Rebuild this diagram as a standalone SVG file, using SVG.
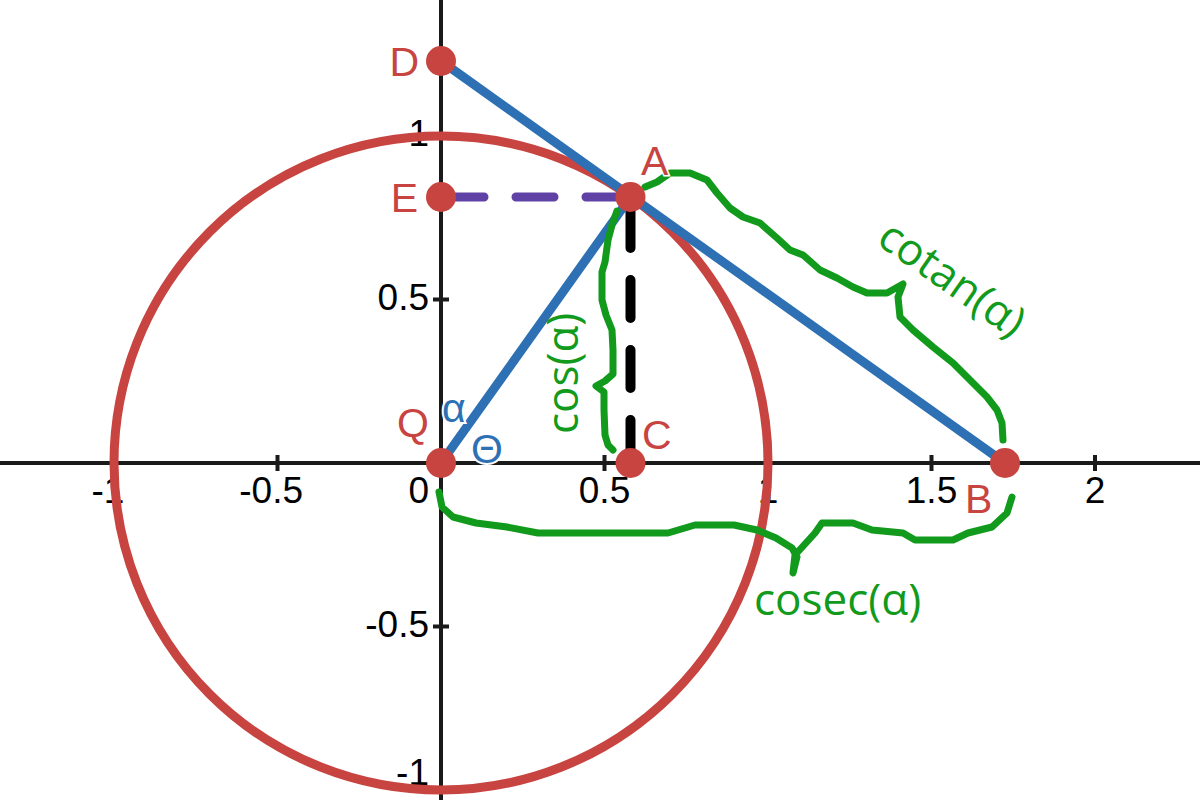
<svg xmlns="http://www.w3.org/2000/svg" width="1200" height="800" viewBox="0 0 1200 800">
<style>
.axis{stroke:#1a1a1a;stroke-width:4;fill:none}
.tick{stroke:#1a1a1a;stroke-width:4}
.tl{font-family:"Liberation Sans",Arial,sans-serif;font-size:37px;fill:#000;stroke:#fff;stroke-width:3;paint-order:stroke}
.pl{font-family:"Liberation Sans",Arial,sans-serif;font-size:41px;fill:#c74440;stroke:#fff;stroke-width:3;paint-order:stroke}
.bl{font-family:"Liberation Sans",Arial,sans-serif;font-size:41px;fill:#2d70b3;stroke:#fff;stroke-width:4;paint-order:stroke}
.gt{font-family:"Open Sans","Noto Sans",sans-serif;font-size:44px;fill:#119a1b}
.brace{fill:none;stroke:#119a1b;stroke-width:7;stroke-linecap:round;stroke-linejoin:round}
.pt{fill:#c74440}
.seg{stroke:#2d70b3;stroke-width:9;stroke-linecap:round;fill:none}
</style>
<rect width="1200" height="800" fill="#fff"/>
<g id="axes">
<line class="axis" x1="0" y1="463" x2="1200" y2="463"/>
<line class="axis" x1="441" y1="0" x2="441" y2="800"/>
<line class="tick" x1="114" y1="455" x2="114" y2="471"/>
<line class="tick" x1="277.5" y1="455" x2="277.5" y2="471"/>
<line class="tick" x1="604.5" y1="455" x2="604.5" y2="471"/>
<line class="tick" x1="768" y1="455" x2="768" y2="471"/>
<line class="tick" x1="931.5" y1="455" x2="931.5" y2="471"/>
<line class="tick" x1="1095" y1="455" x2="1095" y2="471"/>
<line class="tick" x1="433" y1="136" x2="449" y2="136"/>
<line class="tick" x1="433" y1="299.5" x2="449" y2="299.5"/>
<line class="tick" x1="433" y1="626.5" x2="449" y2="626.5"/>
<line class="tick" x1="433" y1="790" x2="449" y2="790"/>
</g>
<g id="tick-labels">
<text class="tl" x="124.3" y="503" text-anchor="end">-1</text>
<text class="tl" x="303" y="503" text-anchor="end">-0.5</text>
<text class="tl" x="429" y="503" text-anchor="end">0</text>
<text class="tl" x="604.5" y="503" text-anchor="middle">0.5</text>
<text class="tl" x="768" y="503" text-anchor="middle">1</text>
<text class="tl" x="931.5" y="503" text-anchor="middle">1.5</text>
<text class="tl" x="1095" y="503" text-anchor="middle">2</text>
<text class="tl" x="429" y="146" text-anchor="end">1</text>
<text class="tl" x="429" y="310" text-anchor="end">0.5</text>
<text class="tl" x="429" y="637" text-anchor="end">-0.5</text>
<text class="tl" x="429" y="785" text-anchor="end">-1</text>
</g>
<g id="unit-circle">
<circle cx="441" cy="463" r="327" fill="none" stroke="#c74440" stroke-width="9"/>
</g>
<g id="connectors">
<line x1="446" y1="197" x2="630" y2="197" stroke="#6042a6" stroke-width="9" stroke-linecap="round" stroke-dasharray="38 32"/>
<line x1="630.5" y1="458" x2="630.5" y2="197" stroke="#000" stroke-width="10" stroke-linecap="round" stroke-dasharray="38 32"/>
<line class="seg" x1="441" y1="463" x2="630.5" y2="197"/>
<line class="seg" x1="441" y1="61" x2="1005" y2="463"/>
</g>
<g id="braces">
<path class="brace" d="M617,211 L612,225 L608,240 L605,262 L602,272 L602,300 L606,315 L612,330 L613,350 L613,374 L605,381 L596,386 L604,392 L604,410 L605,435 L608,445 L613,450"/>
<path class="brace" d="M645,187 L657,182 L670,173 L690,173 L707,180 L717,193 L730,208 L743,217 L760,223 L777,238 L790,250 L803,255 L820,270 L837,278 L853,287 L867,293 L887,293 L903,284 L898,297 L900,317 L913,330 L933,347 L953,363 L970,380 L987,397 L997,410 L1002,423 L1003,440"/>
<path class="brace" d="M439,492 L442,507 L453,517 L476,523 L507,527 L538,533 L668,533 L695,525 L734,525 L757,530 L776,538 L792,548 L797,557 L793,573 L795,555 L815,533 L822,523 L853,523 L872,530 L903,533 L915,540 L953,540 L968,533 L992,527 L1007,513 L1012,497"/>
</g>
<g id="node-Q"><circle class="pt" cx="441" cy="463" r="15"/><text class="pl" x="429" y="437" text-anchor="end">Q</text></g>
<g id="node-C"><circle class="pt" cx="630.5" cy="463" r="15"/><text class="pl" x="642" y="449">C</text></g>
<g id="node-A"><circle class="pt" cx="630.5" cy="197" r="15"/><text class="pl" x="641" y="175">A</text></g>
<g id="node-E"><circle class="pt" cx="441" cy="197" r="15"/><text class="pl" x="418" y="212" text-anchor="end">E</text></g>
<g id="node-D"><circle class="pt" cx="441" cy="61" r="15"/><text class="pl" x="419" y="76" text-anchor="end">D</text></g>
<g id="node-B"><circle class="pt" cx="1005" cy="463" r="15"/><text class="pl" x="965" y="513">B</text></g>
<g id="angle-labels">
<text class="bl" x="442" y="422">α</text>
<text class="bl" x="471" y="463">Θ</text>
</g>
<g id="green-labels">
<text class="gt" transform="translate(578,434) rotate(-90)">cos(α)</text>
<text class="gt" transform="translate(875,243) rotate(35)">cotan(α)</text>
<text class="gt" x="754" y="615">cosec(α)</text>
</g>
</svg>
